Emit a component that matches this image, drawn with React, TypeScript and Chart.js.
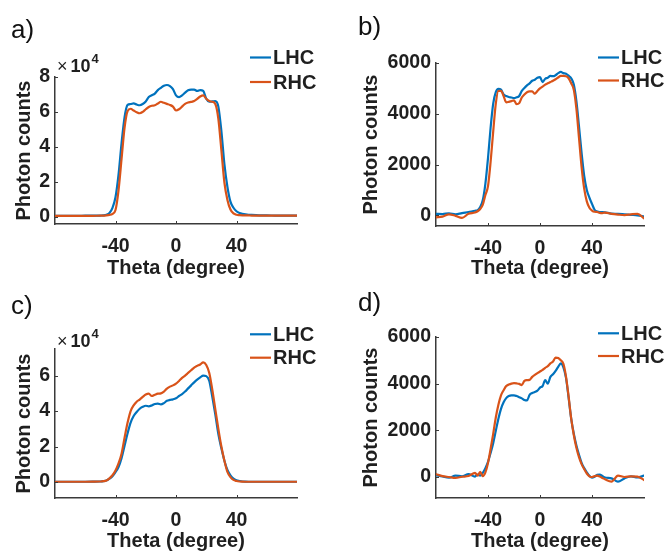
import React, { useEffect, useRef } from 'react';
import { Chart, registerables } from 'chart.js';

Chart.register(...registerables);

// ---------- data ----------
const THETA = [
  -80, -75, -70, -65, -60, -55, -50,
  -48, -46, -44, -42, -40, -38, -36, -34, -32, -30, -28, -26, -24, -22, -20, -18, -16, -14, -12, -10, -8, -6, -4, -2,
  0, 2, 4, 6, 8, 10, 12, 14, 16, 18, 20, 22, 24, 26, 28, 30, 32, 34, 36, 38, 40, 42, 44, 46, 48,
  50, 55, 60, 65, 70, 75, 80,
];

const A_LHC = [
  400, 400, 400, 400, 450, 450, 550,
  650, 1000, 2000, 5000, 11000, 24000, 42000, 57000, 64000, 64500, 64900, 64200, 63800, 64500, 66000, 68500, 69500, 70500, 72500, 73800, 75000, 75400, 74800, 73000,
  69500, 68500, 69500, 71000, 72400, 72800, 72800, 72000, 72500, 72000, 67500, 65800, 66000, 66200, 63000, 49000, 30000, 17000, 8500, 5000, 3000, 2000, 1500, 1200, 1000,
  900, 700, 600, 550, 500, 500, 500,
];
const A_RHC = [
  400, 400, 400, 400, 400, 400, 450,
  450, 600, 900, 1500, 3700, 15000, 33000, 51000, 60500, 61800, 60800, 59800, 59200, 60000, 61500, 62800, 63500, 63800, 64800, 65800, 65200, 64600, 64000, 63000,
  60800, 61500, 63000, 64600, 65400, 65700, 66200, 67400, 68800, 69500, 67500, 66200, 65800, 64500, 56000, 38000, 19500, 9500, 4000, 1800, 1000, 800, 700, 650, 600,
  550, 500, 500, 500, 500, 500, 500,
];

const B_LHC = [
  60, 50, 80, 40, 90, 130, 180,
  200, 330, 600, 1250, 2250, 3450, 4400, 4850, 4980, 4950, 4760, 4700, 4660, 4640, 4620, 4650, 4700, 4900, 5020, 5120, 5200, 5300, 5340, 5420,
  5440, 5250, 5380, 5420, 5490, 5480, 5520, 5600, 5650, 5600, 5580, 5500, 5400, 5150, 4500, 3500, 2450, 1550, 1000, 700, 450, 220, 150, 130, 130,
  120, 70, 60, 40, 20, 0, -40,
];
const B_RHC = [
  -80, -50, 40, -20, -100, 60, 110,
  160, 250, 420, 800, 1150, 2100, 3300, 4400, 4900, 4900, 4700, 4450, 4470, 4500, 4530, 4380, 4420, 4640, 4760, 4850, 4880, 4880, 4790, 4900,
  5000, 5070, 5150, 5200, 5250, 5300, 5360, 5430, 5490, 5490, 5480, 5400, 5200, 4950, 4200, 3050, 1900, 1050, 550, 300, 190, 140, 130, 100, 90,
  110, 60, 30, 10, 40, 60, -120,
];

const C_LHC = [
  150, 150, 150, 150, 150, 200, 300,
  500, 900, 1900, 3300, 5600, 8500, 13500, 20500, 27500, 33500, 37200, 39500, 41300, 42400, 43000, 42700, 43200, 44000, 44200, 43800, 44500, 45800, 46300, 46600,
  47200, 48500, 49600, 51000, 52800, 54500, 56200, 57700, 59000, 60000, 59700, 57000, 48000, 38000, 27000, 19000, 12000, 6800, 3800, 1900, 1000, 600, 300, 200, 150,
  150, 150, 150, 150, 150, 150, 150,
];
const C_RHC = [
  150, 150, 150, 150, 150, 200, 300,
  500, 900, 2100, 3800, 6500, 10500, 16000, 25000, 33500, 40000, 43200, 45300, 46500, 48000, 49300, 49800, 48500, 49200, 49800, 50000, 51000, 52700, 53800, 54500,
  55500, 57000, 58700, 60000, 61500, 63000, 64500, 65500, 66300, 67500, 66000, 61500, 52000, 41000, 30000, 20000, 12000, 5700, 2800, 1200, 600, 300, 200, 150, 150,
  150, 150, 150, 150, 150, 150, 150,
];

const D_LHC = [
  80, 20, -30, 60, 30, 120, 20,
  100, 60, 180, 380, 650, 1030, 1450, 1980, 2500, 2920, 3200, 3380, 3470, 3500, 3500, 3470, 3420, 3370, 3300, 3280, 3520, 3600, 3640, 3700,
  3830, 3900, 4150, 4000, 4290, 4400, 4550, 4720, 4870, 4700, 4250, 3400, 2500, 1850, 1350, 950, 600, 380, 200, 50, -30, 10, 90, 100, 40,
  -20, -60, -200, -60, 30, -20, 60,
];
const D_RHC = [
  120, 40, 0, -40, 10, 40, 180,
  60, 220, 40, 200, 600, 1200, 1850, 2550, 3100, 3500, 3720, 3900, 3960, 4000, 4020, 4010, 3990, 3940, 4120, 4150, 4160, 4290, 4380, 4450,
  4520, 4590, 4680, 4750, 4870, 4950, 5120, 5100, 5000, 4850, 4300, 3450, 2500, 1800, 1250, 850, 550, 340, 150, 30, 0, 40, 60, 20, -40,
  -100, -200, 60, 0, 30, 20, -130,
];

const SERIES_NAMES = ['LHC', 'RHC'];
const X_TICKS = [-40, 0, 40];
const X_TICK_LABELS = ['-40', '0', '40'];
const X_RANGE = [-80, 80];
const E4_Y_TICKS_A = [0, 20000, 40000, 60000, 80000];
const E4_Y_LABELS_A = ['0', '2', '4', '6', '8'];
const E4_Y_TICKS_C = [0, 20000, 40000, 60000];
const E4_Y_LABELS_C = ['0', '2', '4', '6'];
const LIN_Y_TICKS = [0, 2000, 4000, 6000];
const LIN_Y_LABELS = ['0', '2000', '4000', '6000'];
const X_TITLE = 'Theta (degree)';
const Y_TITLE = 'Photon counts';
const PANEL_LABELS = ['a)', 'b)', 'c)', 'd)'];
const EXP_BASE = '10';
const EXP_POWER = '4';

// ---------- styles / layout ----------
const W = 668;
const H = 553;
const FONT = "'Liberation Sans', Arial, Helvetica, sans-serif";
const AXIS_COLOR = '#3a3a3a';
const TEXT_COLOR = '#1f1f1f';
const COLORS = ['#0072BD', '#D95319'];
const TICK_SIZE = 19.5;
const TITLE_SIZE = 20;
const TITLE_LH = TITLE_SIZE * 1.2;
const LINE_W = 2.2;

const PANELS = [
  {
    label: PANEL_LABELS[0], lhc: A_LHC, rhc: A_RHC, yMin: -4300, yMax: 80000,
    yTicks: E4_Y_TICKS_A, yLabels: E4_Y_LABELS_A, exp: true,
    area: { l: 55, r: 297, t: 77, b: 224 }, yTitleX: 24, xTitleY: 268,
    labelPos: { x: 11, y: 38 }, legend: { x: 250, y1: 57.5, y2: 82 }, expPos: { x: 57, y: 72 },
  },
  {
    label: PANEL_LABELS[1], lhc: B_LHC, rhc: B_RHC, yMin: -420, yMax: 6000,
    yTicks: LIN_Y_TICKS, yLabels: LIN_Y_LABELS, exp: false,
    area: { l: 436, r: 644, t: 63, b: 226 }, yTitleX: 371.5, xTitleY: 268,
    labelPos: { x: 358, y: 34.5 }, legend: { x: 598, y1: 57.5, y2: 80.5 }, expPos: null,
  },
  {
    label: PANEL_LABELS[2], lhc: C_LHC, rhc: C_RHC, yMin: -9000, yMax: 75000,
    yTicks: E4_Y_TICKS_C, yLabels: E4_Y_LABELS_C, exp: true,
    area: { l: 55, r: 297, t: 349, b: 498 }, yTitleX: 24, xTitleY: 541,
    labelPos: { x: 11, y: 314 }, legend: { x: 250, y1: 334.3, y2: 357.7 }, expPos: { x: 57, y: 347 },
  },
  {
    label: PANEL_LABELS[3], lhc: D_LHC, rhc: D_RHC, yMin: -900, yMax: 6000,
    yTicks: LIN_Y_TICKS, yLabels: LIN_Y_LABELS, exp: false,
    area: { l: 436, r: 644, t: 337, b: 498 }, yTitleX: 371.5, xTitleY: 541,
    labelPos: { x: 358, y: 311 }, legend: { x: 598, y1: 333.3, y2: 356 }, expPos: null,
  },
];

function makeDecor(p: any) {
  return {
    id: 'decor',
    afterDraw(chart: any) {
      const ctx = chart.ctx as CanvasRenderingContext2D;
      const { left, bottom } = chart.chartArea;
      const xs = chart.scales.x;
      const ys = chart.scales.y;
      ctx.save();
      // inward tick marks
      ctx.strokeStyle = AXIS_COLOR;
      ctx.lineWidth = 1;
      ctx.beginPath();
      xs.ticks.forEach((t: any) => {
        const px = Math.round(xs.getPixelForValue(t.value)) + 0.5;
        ctx.moveTo(px, bottom);
        ctx.lineTo(px, bottom - 3);
      });
      ys.ticks.forEach((t: any) => {
        const py = Math.round(ys.getPixelForValue(t.value)) + 0.5;
        ctx.moveTo(left, py);
        ctx.lineTo(left + 3, py);
      });
      ctx.stroke();

      // legend
      const ys2 = [p.legend.y1, p.legend.y2];
      chart.data.datasets.forEach((ds: any, i: number) => {
        const y = ys2[i];
        ctx.strokeStyle = ds.borderColor;
        ctx.lineWidth = LINE_W;
        ctx.beginPath();
        ctx.moveTo(p.legend.x, y);
        ctx.lineTo(p.legend.x + 21, y);
        ctx.stroke();
        ctx.fillStyle = TEXT_COLOR;
        ctx.font = `bold 20px ${FONT}`;
        ctx.textAlign = 'left';
        ctx.textBaseline = 'middle';
        ctx.fillText(ds.label, p.legend.x + 23, y + 1);
      });

      // panel label
      ctx.fillStyle = '#111';
      ctx.font = `26px ${FONT}`;
      ctx.textBaseline = 'alphabetic';
      ctx.fillText(p.label, p.labelPos.x, p.labelPos.y);

      // exponent
      if (p.exp && p.expPos) {
        ctx.fillStyle = TEXT_COLOR;
        ctx.font = `18px ${FONT}`;
        ctx.fillText('\u00d7', p.expPos.x, p.expPos.y);
        const xw = ctx.measureText('\u00d7').width;
        ctx.font = `bold 18px ${FONT}`;
        const bx = p.expPos.x + xw + 3;
        ctx.fillText(EXP_BASE, bx, p.expPos.y);
        const bw = ctx.measureText(EXP_BASE).width;
        ctx.font = `bold 13px ${FONT}`;
        ctx.fillText(EXP_POWER, bx + bw + 1, p.expPos.y - 9);
      }
      ctx.restore();
    },
  };
}

function Panel({ p }: { p: any }) {
  const ref = useRef<HTMLCanvasElement | null>(null);
  useEffect(() => {
    const padLeft = p.yTitleX - TITLE_LH / 2;
    const yWidth = p.area.l - padLeft;
    const scaleBottom = Math.min(H, p.xTitleY + TITLE_LH / 2);
    const xHeight = scaleBottom - p.area.b;
    const padBottom = H - scaleBottom;
    const mk = (vals: number[]) => THETA.map((t, i) => ({ x: t, y: vals[i] }));
    const chart = new Chart(ref.current as HTMLCanvasElement, {
      type: 'line',
      data: {
        datasets: [
          {
            label: SERIES_NAMES[0], data: mk(p.lhc), borderColor: COLORS[0], borderWidth: LINE_W,
            pointRadius: 0, cubicInterpolationMode: 'monotone', borderJoinStyle: 'round', borderCapStyle: 'round', order: 2,
          },
          {
            label: SERIES_NAMES[1], data: mk(p.rhc), borderColor: COLORS[1], borderWidth: LINE_W,
            pointRadius: 0, cubicInterpolationMode: 'monotone', borderJoinStyle: 'round', borderCapStyle: 'round', order: 1,
          },
        ],
      },
      options: {
        responsive: false,
        animation: false,
        devicePixelRatio: 1,
        events: [],
        layout: {
          autoPadding: false,
          padding: { left: padLeft, top: p.area.t, right: W - p.area.r, bottom: padBottom },
        },
        plugins: { legend: { display: false }, tooltip: { enabled: false } },
        scales: {
          x: {
            type: 'linear', position: 'bottom', min: X_RANGE[0], max: X_RANGE[1],
            afterBuildTicks: (s: any) => { s.ticks = X_TICKS.map((v) => ({ value: v })); },
            afterFit: (s: any) => { s.height = xHeight; },
            grid: { display: false, drawTicks: false },
            border: { display: true, color: AXIS_COLOR, width: 1.5 },
            ticks: {
              callback: (_v: any, i: number) => X_TICK_LABELS[i],
              font: { family: FONT, size: TICK_SIZE, weight: 'bold' }, color: TEXT_COLOR,
              padding: 10.5, maxRotation: 0, autoSkip: false,
            },
            title: {
              display: true, text: X_TITLE, color: TEXT_COLOR,
              font: { family: FONT, size: TITLE_SIZE, weight: 'bold' }, padding: 0,
            },
          },
          y: {
            type: 'linear', position: 'left', min: p.yMin, max: p.yMax,
            afterBuildTicks: (s: any) => { s.ticks = p.yTicks.map((v: number) => ({ value: v })); },
            afterFit: (s: any) => { s.width = yWidth; },
            grid: { display: false, drawTicks: false },
            border: { display: true, color: AXIS_COLOR, width: 1.5 },
            ticks: {
              callback: (_v: any, i: number) => p.yLabels[i],
              font: { family: FONT, size: TICK_SIZE, weight: 'bold' }, color: TEXT_COLOR,
              padding: 5, autoSkip: false,
            },
            title: {
              display: true, text: Y_TITLE, color: TEXT_COLOR,
              font: { family: FONT, size: TITLE_SIZE, weight: 'bold' }, padding: 0,
            },
          },
        },
      } as any,
      plugins: [makeDecor(p)],
    });
    return () => chart.destroy();
  }, [p]);
  return (
    <canvas
      ref={ref}
      width={W}
      height={H}
      style={{ position: 'absolute', left: 0, top: 0, width: W, height: H }}
    />
  );
}

export default function App() {
  return (
    <div style={{ position: 'fixed', left: 0, top: 0, width: W, height: H, background: '#ffffff', overflow: 'hidden' }}>
      {PANELS.map((p, i) => (
        <Panel key={i} p={p} />
      ))}
    </div>
  );
}
